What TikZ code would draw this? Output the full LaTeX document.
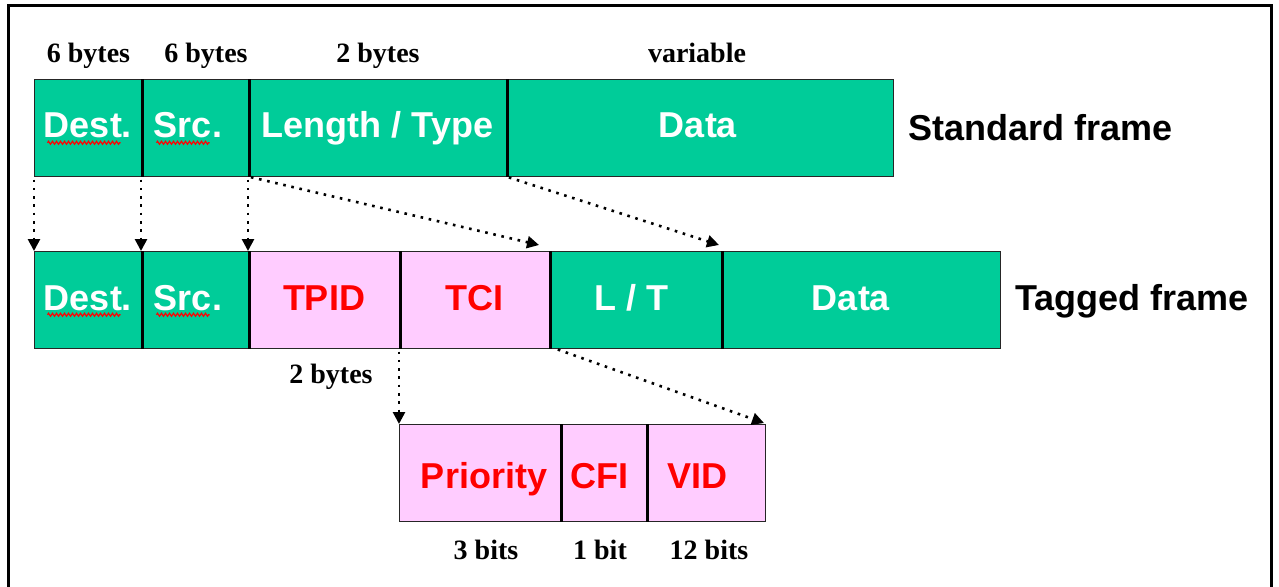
\documentclass[tikz,border=0pt]{standalone}
\usepackage{fontspec}
\setmainfont{Liberation Serif}
\setsansfont{Liberation Sans}
\usetikzlibrary{arrows.meta,decorations.pathmorphing}
\definecolor{fgreen}{HTML}{00CC99}
\definecolor{fpink}{HTML}{FFCCFF}
\definecolor{fred}{HTML}{FF0000}
\begin{document}
\begin{tikzpicture}[x=1pt,y=-1pt,
  field/.style={draw=black!85, line width=1pt, anchor=north west, inner sep=0pt, minimum height=96.5pt},
  gfield/.style={field, fill=fgreen},
  pfield/.style={field, fill=fpink},
  boxfont/.style={font=\sffamily\bfseries\fontsize{36}{40}\selectfont, inner sep=0pt, anchor=base},
  wtext/.style={boxfont, text=white},
  rtext/.style={boxfont, text=fred},
  title/.style={font=\sffamily\bfseries\fontsize{36}{40}\selectfont, inner sep=0pt, anchor=base west},
  sizelbl/.style={font=\rmfamily\bfseries\fontsize{28}{32}\selectfont, inner sep=0pt, anchor=base},
  divider/.style={line width=3pt, black},
  conn/.style={line width=2.6pt, dash pattern=on 2.6pt off 5.7pt, shorten <=3pt, -{Triangle[length=12pt,width=12pt]}},
  wavy/.style={fred, line width=1.2pt, decorate, decoration={zigzag, segment length=4pt, amplitude=1.5pt}}]
\useasboundingbox (0,0) rectangle (1279,586);
\fill[white] (0,0) rectangle (1279,586);
% outer frame (bottom edge lies below the picture)
\draw[line width=3pt] (8,600) -- (8,6) -- (1271,6) -- (1271,600);

% standard frame
\node[gfield, minimum width=107pt] (s1) at (34,79) {};
\node[gfield, minimum width=107pt] (s2) at (141,79) {};
\node[gfield, minimum width=258pt] (s3) at (248,79) {};
\node[gfield, minimum width=387pt] (s4) at (506,79) {};
\foreach \n in {s1,s2,s3} \draw[divider] (\n.north east) -- (\n.south east);

% tagged frame
\node[gfield, minimum width=107pt] (t1) at (34,251) {};
\node[gfield, minimum width=107pt] (t2) at (141,251) {};
\node[pfield, minimum width=151pt] (t3) at (248,251) {};
\node[pfield, minimum width=150pt] (t4) at (399,251) {};
\node[gfield, minimum width=172pt] (t5) at (549,251) {};
\node[gfield, minimum width=279pt] (t6) at (721,251) {};
\foreach \n in {t1,t2,t3,t4,t5} \draw[divider] (\n.north east) -- (\n.south east);

% TCI breakdown
\node[pfield, minimum width=161pt] (p1) at (399,424) {};
\node[pfield, minimum width=86pt] (p2) at (560,424) {};
\node[pfield, minimum width=119pt] (p3) at (646,424) {};
\foreach \n in {p1,p2} \draw[divider] (\n.north east) -- (\n.south east);

% field texts
\node[wtext] (s1t) at ([yshift=-10pt]s1.center) {Dest.};
\node[wtext] (s2t) at ([xshift=-7pt,yshift=-10pt]s2.center) {Src.};
\node[wtext] (s3t) at ([yshift=-10pt]s3.center) {Length / Type};
\node[wtext] (s4t) at ([xshift=-2pt,yshift=-10pt]s4.center) {Data};
\node[wtext] (t1t) at ([yshift=-11pt]t1.center) {Dest.};
\node[wtext] (t2t) at ([xshift=-7pt,yshift=-11pt]t2.center) {Src.};
\node[rtext] (t3t) at ([yshift=-11pt]t3.center) {TPID};
\node[rtext] (t4t) at ([yshift=-11pt]t4.center) {TCI};
\node[wtext] (t5t) at ([xshift=-4pt,yshift=-11pt]t5.center) {L / T};
\node[wtext] (t6t) at ([xshift=-10pt,yshift=-11pt]t6.center) {Data};
\node[rtext] (p1t) at ([xshift=4pt,yshift=-16pt]p1.center) {Priority};
\node[rtext] (p2t) at ([xshift=-4pt,yshift=-16pt]p2.center) {CFI};
\node[rtext] (p3t) at ([xshift=-9pt,yshift=-16pt]p3.center) {VID};

% spell-check underlines
\draw[wavy] ([xshift=-40.5pt,yshift=-15pt]s1.center) -- ([xshift=32.5pt,yshift=-15pt]s1.center);
\draw[wavy] ([xshift=-38.5pt,yshift=-15pt]s2.center) -- ([xshift=14.5pt,yshift=-15pt]s2.center);
\draw[wavy] ([xshift=-40.5pt,yshift=-15pt]t1.center) -- ([xshift=32.5pt,yshift=-15pt]t1.center);
\draw[wavy] ([xshift=-38.5pt,yshift=-15pt]t2.center) -- ([xshift=14.5pt,yshift=-15pt]t2.center);

% titles
\node[title] (std) at (908,140) {Standard frame};
\node[title] (tag) at (1015,310) {Tagged frame};

% size labels
\node[sizelbl] (l1) at (88.5,63) {6 bytes};
\node[sizelbl] (l2) at (206,63) {6 bytes};
\node[sizelbl] (l3) at (378,63) {2 bytes};
\node[sizelbl] (l4) at (697,63) {variable};
\node[sizelbl] (l5) at (331,383) {2 bytes};
\node[sizelbl] (l6) at (486,559) {3 bits};
\node[sizelbl] (l7) at (600,559) {1 bit};
\node[sizelbl] (l8) at (709,559) {12 bits};

% connectors
\draw[conn] (s1.south west) -- (t1.north west);
\draw[conn] (s2.south west) -- (t2.north west);
\draw[conn] (s3.south west) -- (t3.north west);
\draw[conn] (s3.south west) -- ([xshift=-11pt,yshift=6pt]t4.north east);
\draw[conn] (s4.south west) -- ([xshift=-3pt,yshift=6pt]t5.north east);
\draw[conn] (t4.south west) -- (p1.north west);
\draw[conn] ([xshift=5pt]t4.south east) -- ([xshift=-2pt,yshift=1pt]p3.north east);
\end{tikzpicture}
\end{document}
